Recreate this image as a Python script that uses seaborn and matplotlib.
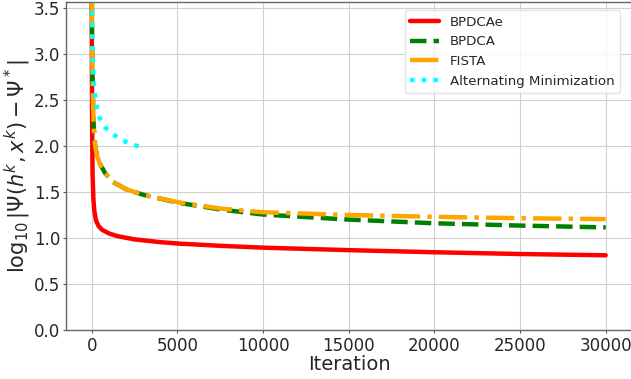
import numpy as np
import pandas as pd
import matplotlib
matplotlib.use("Agg")
import matplotlib.pyplot as plt
import seaborn as sns

# Data (iteration, log10 gap)
bpdcae_iter = [0, 10, 25, 50, 100, 150, 250, 400, 600, 1000, 1500, 2500, 4000, 5000, 7500, 10000, 15000, 20000, 25000, 30000]
bpdcae_val  = [4.2, 3.0, 2.2, 1.7, 1.42, 1.3, 1.19, 1.13, 1.09, 1.05, 1.02, 0.985, 0.955, 0.94, 0.915, 0.895, 0.868, 0.845, 0.826, 0.812]

bpdca_iter = [0, 20, 60, 120, 200, 300, 470, 800, 1230, 2000, 3000, 5000, 7500, 10000, 15000, 20000, 25000, 30000]
bpdca_val  = [4.2, 3.2, 2.6, 2.2, 2.0, 1.9, 1.81, 1.7, 1.61, 1.53, 1.47, 1.385, 1.31, 1.255, 1.2, 1.16, 1.135, 1.115]

fista_iter = [0, 20, 60, 120, 200, 300, 470, 800, 1230, 2000, 3000, 5000, 7500, 10000, 15000, 20000, 25000, 30000]
fista_val  = [4.2, 3.2, 2.6, 2.2, 2.0, 1.9, 1.81, 1.7, 1.61, 1.53, 1.47, 1.39, 1.32, 1.28, 1.25, 1.23, 1.215, 1.205]

altmin_iter = [0, 20, 60, 120, 175, 300, 470, 800, 1170, 1600, 2050, 2500, 3000]
altmin_val  = [4.2, 3.4, 2.95, 2.7, 2.58, 2.42, 2.3, 2.2, 2.14, 2.08, 2.04, 2.01, 1.98]

xticks = [0, 5000, 10000, 15000, 20000, 25000, 30000]
yticks = [0.0, 0.5, 1.0, 1.5, 2.0, 2.5, 3.0, 3.5]

sns.set_style("whitegrid")
plt.rcParams['font.family'] = ['DejaVu Sans']

fig = plt.figure(figsize=(6.31, 3.79), dpi=100)
ax = fig.add_axes([66/631, 49/379, 1.0 - 66/631 + 0.002, (330-2)/379])

series = [
    ("BPDCAe", bpdcae_iter, bpdcae_val, "red", "-"),
    ("BPDCA", bpdca_iter, bpdca_val, "green", "--"),
    ("FISTA", fista_iter, fista_val, "orange", "-."),
    ("Alternating Minimization", altmin_iter, altmin_val, "cyan", ":"),
]
for name, xs, ys, col, ls in series:
    df = pd.DataFrame({"Iteration": xs, "val": ys})
    sns.lineplot(data=df, x="Iteration", y="val", ax=ax, color=col, linestyle=ls,
                 linewidth=3.2, label=name, sort=False, estimator=None)

ax.set_xlim(-1500, 31550)
ax.set_ylim(0, 3.565)
ax.set_xticks(xticks)
ax.set_yticks(yticks)
ax.set_yticklabels([f"{v:.1f}" for v in yticks])
ax.tick_params(axis='both', labelsize=12, length=2.5, color='#555555', left=True, bottom=True)
ax.tick_params(axis='y', pad=1.5)
ax.tick_params(axis='x', pad=2.5)
ax.set_xlabel("Iteration", fontsize=14, labelpad=0)
ax.set_ylabel(r"$\log_{10}|\Psi(h^k,x^k)-\Psi^*|$", fontsize=15, labelpad=1)
for s in ax.spines.values():
    s.set_color('#666666')
    s.set_linewidth(1.0)
ax.grid(True, color='#d0d0d0', linewidth=0.8)

leg = ax.legend(loc='upper right', fontsize=9.6, frameon=True, handlelength=2.2,
                bbox_to_anchor=(0.99, 0.995))
leg.get_frame().set_edgecolor('#dddddd')

fig.savefig("out.png", dpi=100)
